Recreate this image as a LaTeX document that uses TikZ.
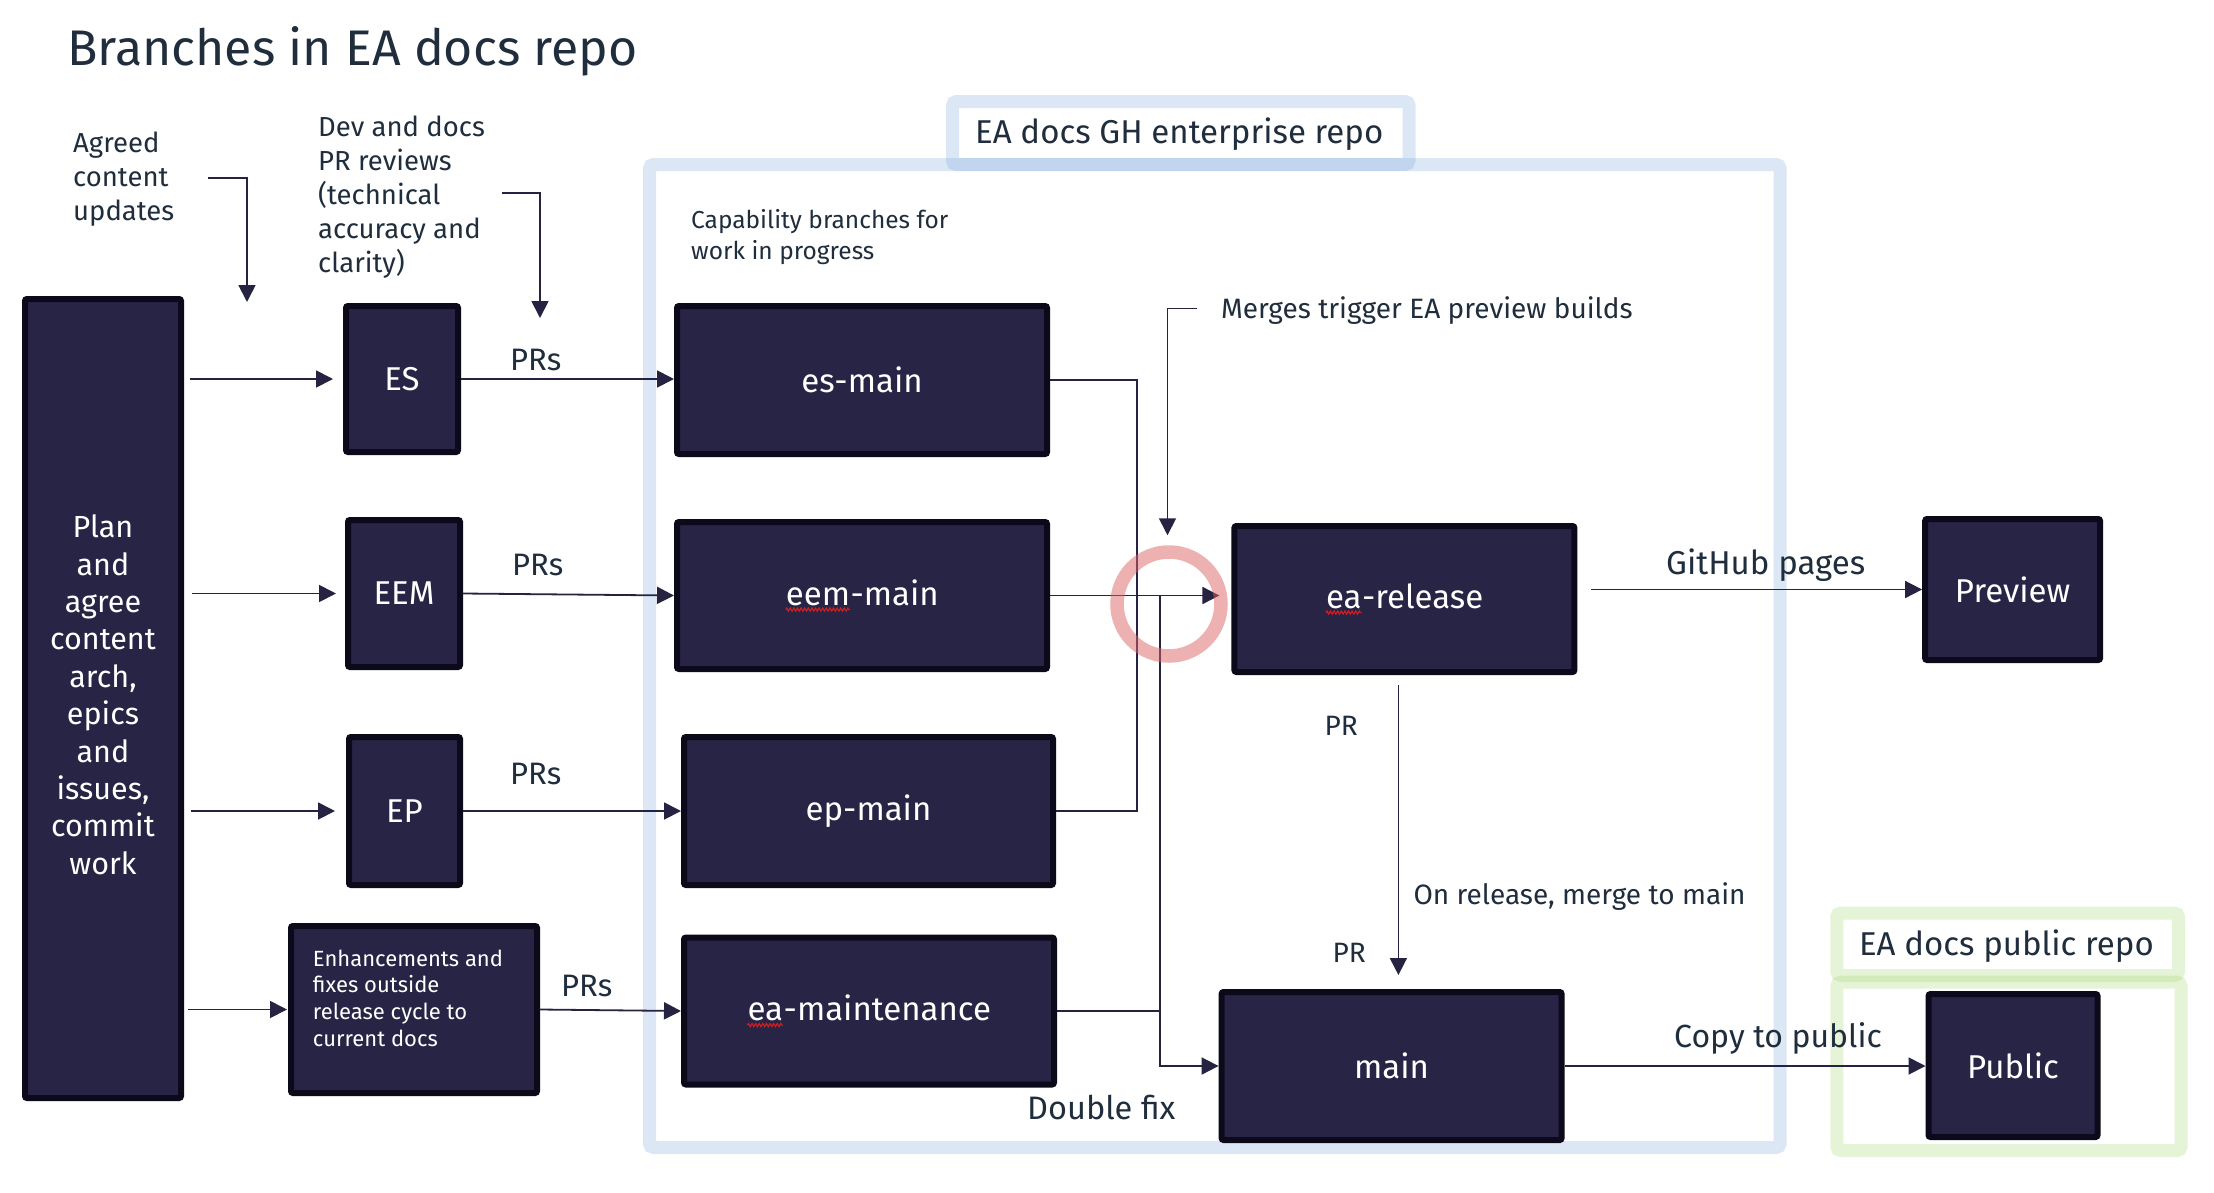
\documentclass[tikz,border=0pt]{standalone}
\usepackage{fontspec}
\setmainfont{Fira Sans}
\usetikzlibrary{arrows.meta,decorations.pathmorphing}
\definecolor{boxfill}{RGB}{40,36,69}
\definecolor{boxline}{RGB}{12,10,26}
\definecolor{ink}{RGB}{31,45,61}
\definecolor{wirec}{RGB}{38,35,66}
\definecolor{bluebase}{RGB}{119,165,220}
\definecolor{greenbase}{RGB}{172,218,122}
\definecolor{ringred}{RGB}{220,100,100}
\definecolor{squigred}{RGB}{215,30,30}
\newcommand\fs[2]{\fontsize{#1pt}{#2pt}\selectfont}
\newcommand\sqg[1]{\tikz[baseline=(sq.base)]{\node[shape=rectangle, draw=none, fill=none, inner sep=0pt, outer sep=0pt, minimum width=0pt, minimum height=0pt, text=white] (sq) {#1};\draw[squigred, line width=1.1pt, sharp corners, decorate, decoration={zigzag,amplitude=1.6pt,segment length=3.6pt}] ([yshift=-4.5pt]sq.base west) -- ([yshift=-4.5pt]sq.base east);}}
\begin{document}
\begin{tikzpicture}[x=1pt,y=-1pt,
  box/.style={draw=boxline, fill=boxfill, line width=6pt, rounded corners=2pt, text=white, inner sep=0pt, font=\fs{33}{38}},
  lbl/.style={text=ink, inner sep=0pt, anchor=base west},
  wire/.style={draw=wirec, line width=1.8pt},
  arr/.style={wire, -{Triangle[length=17pt,width=17pt]}},
  frameblue/.style={draw=bluebase, draw opacity=0.26, line width=13pt, rounded corners=4pt},
  framegreen/.style={draw=greenbase, draw opacity=0.3, line width=13pt, rounded corners=4pt},
]
\useasboundingbox (0,0) rectangle (2214,1192);
\fill[white] (0,0) rectangle (2214,1192);

% repo frames
\draw[frameblue] (649.5,164.5) rectangle (1780,1147.5);
\draw[frameblue] (952.5,101.5) rectangle (1409,164.5);
\draw[framegreen] (1836.8,913) rectangle (2178.5,975.5);
\draw[framegreen] (1836.8,982) rectangle (2181,1150.5);

% title and notes
\node[lbl, font=\fs{50}{58}] (title) at (67,65) {Branches in EA docs repo};
\node[lbl, font=\fs{27.5}{34}] (agreed) at (73,152) {\begin{tabular}[t]{@{}l@{}}Agreed\\content\\updates\end{tabular}};
\node[lbl, font=\fs{27.5}{34}] (devrev) at (318,136.6) {\begin{tabular}[t]{@{}l@{}}Dev and docs\\PR reviews\\(technical\\accuracy and\\clarity)\end{tabular}};
\node[lbl, font=\fs{24.5}{30.5}] (capab) at (691,228.5) {\begin{tabular}[t]{@{}l@{}}Capability branches for\\work in progress\end{tabular}};
\node[lbl, font=\fs{28}{34}] (mtext) at (1220.8,318.5) {Merges trigger EA preview builds};
\node[lbl, font=\fs{33}{38}] (ghrepo) at (975,143.5) {EA docs GH enterprise repo};
\node[lbl, font=\fs{33}{38}] (pubrepo) at (1858.8,955) {EA docs public repo};

% boxes
\node[box, minimum width=156pt, minimum height=799pt, font=\fs{30.5}{37.4}] (plan) at (103,698.5) {\begin{tabular}{@{}c@{}}Plan\\and\\agree\\content\\arch,\\epics\\and\\issues,\\commit\\work\end{tabular}};
\node[box, minimum width=112pt, minimum height=146pt] (es) at (402,379) {ES};
\node[box, minimum width=112pt, minimum height=147pt] (eem) at (404,593.5) {EEM};
\node[box, minimum width=111pt, minimum height=148pt] (ep) at (404.5,811) {EP};
\node[box, minimum width=246pt, minimum height=167pt, font=\fs{22}{26.6}] (enh) at (414,1009.5) {\begin{tabular}[t]{@{}l@{}}Enhancements and\\fixes outside\\release cycle to\\current docs\end{tabular}\rule[-105pt]{0pt}{1pt}\hspace*{12pt}};
\node[box, minimum width=370pt, minimum height=148pt] (esmain) at (862,380) {es-main};
\node[box, minimum width=370pt, minimum height=147pt] (eemmain) at (862,595.5) {\sqg{eem}-main};
\node[box, minimum width=369pt, minimum height=148pt] (epmain) at (868.5,811) {ep-main};
\node[box, minimum width=370pt, minimum height=147pt] (eamaint) at (869,1011) {\sqg{ea}-maintenance};
\node[box, minimum width=340pt, minimum height=146pt] (earel) at (1404.4,599) {\sqg{ea}-release};
\node[box, minimum width=340pt, minimum height=148pt] (main) at (1391.6,1066) {main};
\node[box, minimum width=175pt, minimum height=141pt] (preview) at (2012.6,589.5) {Preview};
\node[box, minimum width=169pt, minimum height=143pt] (public) at (2013,1065.5) {Public};

% note arrows
\coordinate (agA) at (208,178);
\coordinate (agB) at (247,302);
\draw[arr] (agA) -| (agB);
\coordinate (dvA) at (502,193);
\coordinate (dvB) at (540,318);
\draw[arr] (dvA) -| (dvB);

% plan to teams
\draw[arr, shorten >=10pt] ([xshift=6pt]plan.east |- es.west) -- (es.west);
\draw[arr, shorten >=9pt] ([xshift=8pt]plan.east |- eem.west) -- (eem.west);
\draw[arr, shorten >=11pt] ([xshift=7pt]plan.east |- ep.west) -- (ep.west);
\draw[arr, shorten >=1pt] ([xshift=4pt]plan.east |- enh.west) -- (enh.west);

% teams to branches
\draw[arr] (es.east) -- (esmain.west |- es.east);
\draw[arr] (eem.east) -- (eemmain.west);
\draw[arr] (ep.east) -- (epmain.west);
\draw[arr] (enh.east) -- (eamaint.west);
\node[lbl, font=\fs{31}{36}] (pr1) at (510,370.7) {PRs};
\node[lbl, font=\fs{31}{36}] (pr2) at (512,575) {PRs};
\node[lbl, font=\fs{31}{36}] (pr3) at (510,784.5) {PRs};
\node[lbl, font=\fs{31}{36}] (pr4) at (561,996.5) {PRs};

% merge bus
\coordinate (busA) at (1137,380);
\coordinate (busB) at (1160,597);
\draw[wire] (esmain.east) -- (busA |- esmain.east) -- (busA |- epmain.east) -- (epmain.east);
\draw[arr, shorten >=12pt] (eemmain.east) -- (eemmain.east -| earel.west);
\draw[arr] (busB |- eemmain.east) |- (main.west);
\draw[wire] (eamaint.east) -- (busB |- eamaint.east);

% highlight ring
\node[circle, draw=ringred, draw opacity=0.5, line width=13.5pt, minimum size=104pt, inner sep=0pt] (ring) at (1169,604) {};
\coordinate (mtstart) at (1197.3,308.5);
\draw[arr, shorten >=10pt] (mtstart) -| ([xshift=-1.5pt]ring.north);

% release flow
\draw[arr] ([xshift=13.6pt]earel.east |- preview.west) -- (preview.west);
\draw[arr, shorten >=14pt] ([xshift=-6pt,yshift=-10pt]earel.south) -- ([xshift=-6pt]earel.south |- main.north);
\draw[arr] (main.east) -- (public.west |- main.east);

\node[lbl, font=\fs{33}{38}] (ghp) at (1666,574) {GitHub pages};
\node[lbl, font=\fs{28}{34}] (prup) at (1324.5,735.5) {PR};
\node[lbl, font=\fs{28}{34}] (onrel) at (1413.3,904) {On release, merge to main};
\node[lbl, font=\fs{28}{34}] (prlow) at (1332.3,962.5) {PR};
\node[lbl, font=\fs{32}{36}] (copyp) at (1674,1047) {Copy to public};
\node[lbl, font=\fs{32.5}{36}] (dfix) at (1027,1119) {Double fix};
\end{tikzpicture}
\end{document}
